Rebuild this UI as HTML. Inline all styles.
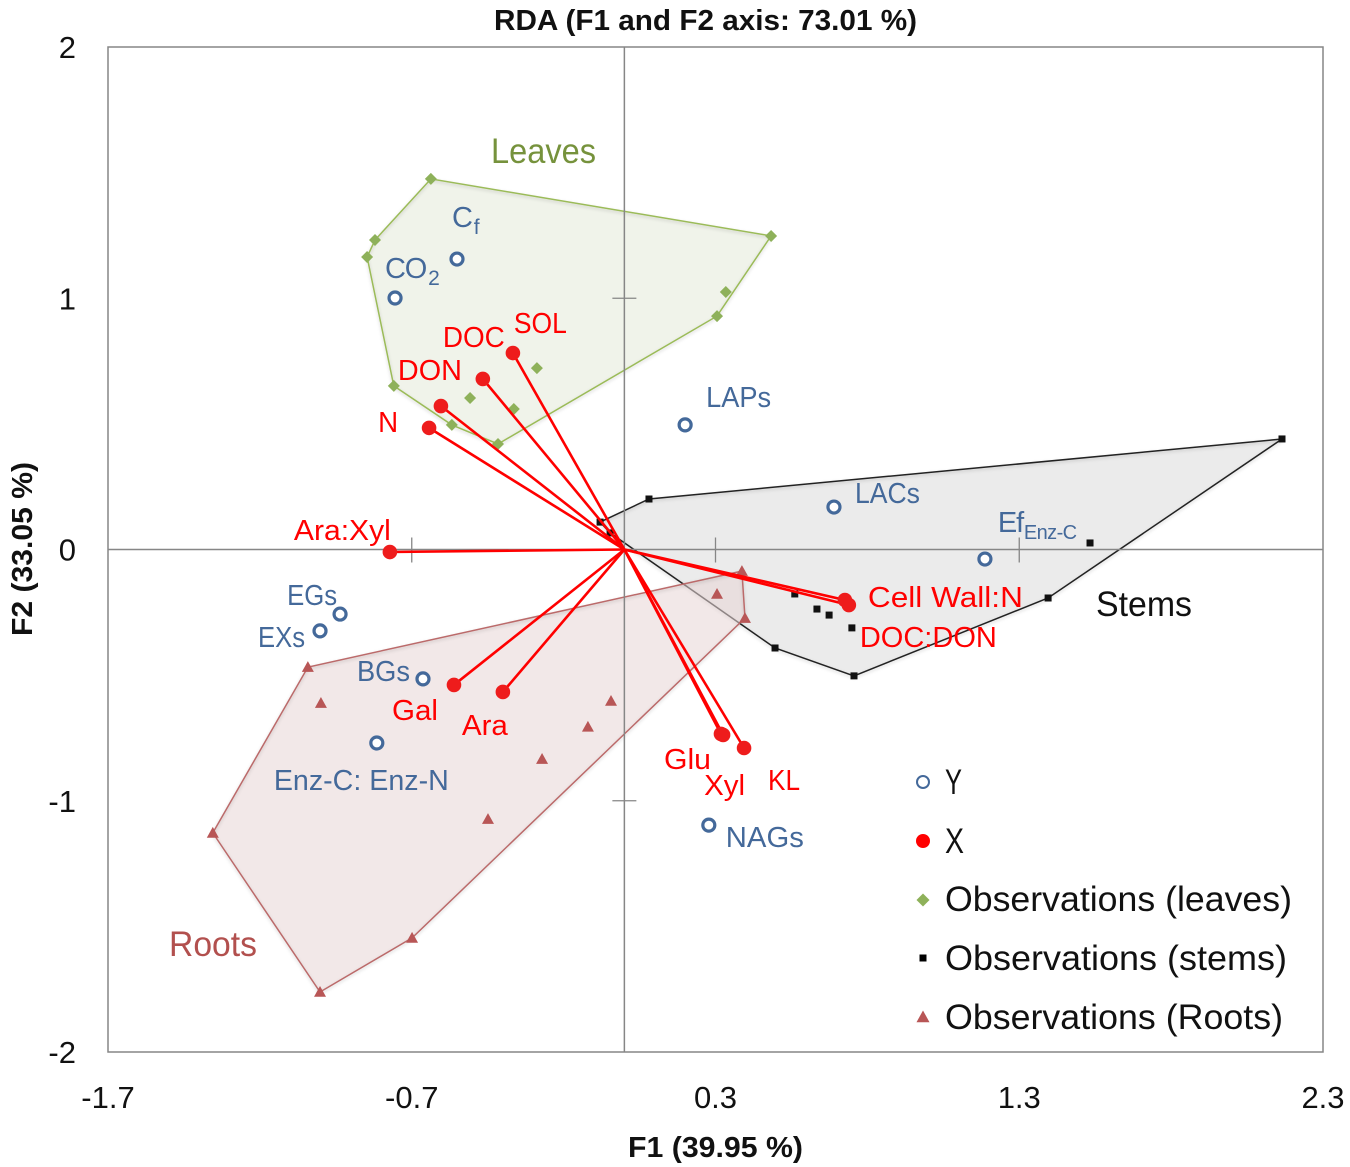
<!DOCTYPE html>
<html lang="en">
<head>
<meta charset="utf-8">
<title>RDA (F1 and F2 axis: 73.01 %)</title>
<style>
html,body{margin:0;padding:0;background:#fff;width:1350px;height:1167px;overflow:hidden}
svg{display:block;font-family:"Liberation Sans",sans-serif}
</style>
</head>
<body>
<svg id="chart" xmlns="http://www.w3.org/2000/svg" width="1350" height="1167" viewBox="0 0 1350 1167">
<defs>
<filter id="soft" x="-5%" y="-5%" width="110%" height="110%"><feDropShadow dx="0" dy="1.5" stdDeviation="1.5" flood-color="#000" flood-opacity="0.18"/></filter>
</defs>
</svg>
<script>
// ---- data (axis units) ----
const xTicks = [-1.7, -0.7, 0.3, 1.3, 2.3];
const yTicks = [2, 1, 0, -1, -2];

const yNames = ['Cf','CO2','LAPs','LACs','EfEnz-C','EGs','EXs','BGs','Enz-C: Enz-N','NAGs'];
const yF1 = [-0.551,-0.755,0.200,0.690,1.187,-0.936,-1.002,-0.663,-0.815,0.278];
const yF2 = [1.156,1.001,0.496,0.169,-0.038,-0.257,-0.324,-0.515,-0.770,-1.097];

const xNames = ['SOL','DOC','DON','N','Ara:Xyl','Gal','Ara','Glu','Xyl','KL','Cell Wall:N','DOC:DON'];
const xF1 = [-0.367,-0.466,-0.604,-0.643,-0.772,-0.561,-0.400,0.318,0.325,0.394,0.726,0.739];
const xF2 = [0.782,0.679,0.571,0.484,-0.010,-0.539,-0.567,-0.734,-0.738,-0.790,-0.201,-0.221];

const leavesF1 = [-0.637,-0.821,-0.847,-0.759,-0.568,-0.416,0.305,0.334,0.483,-0.288,-0.508,-0.364];
const leavesF2 = [1.475,1.232,1.164,0.651,0.496,0.420,0.929,1.025,1.248,0.722,0.603,0.559];

const stemsF1 = [2.165,0.081,-0.080,-0.047,0.496,0.756,1.395,1.533,0.561,0.634,0.674,0.749];
const stemsF2 = [0.440,0.201,0.109,0.066,-0.392,-0.503,-0.193,0.026,-0.177,-0.237,-0.261,-0.312];

const rootsF1 = [0.387,0.397,0.305,-1.042,-1.355,-1.002,-0.699,-0.449,-0.271,-0.120,-0.044,-0.999];
const rootsF2 = [-0.086,-0.273,-0.177,-0.468,-1.128,-1.761,-1.546,-1.073,-0.834,-0.706,-0.603,-0.611];

// ---- layout ----
const plot = {left:108, right:1323, top:47, bottom:1052};
const domX = [-1.7, 2.3], domY = [-2, 2];
function sx(v){ return plot.left + (v - domX[0]) / (domX[1] - domX[0]) * (plot.right - plot.left); }
function sy(v){ return plot.bottom - (v - domY[0]) / (domY[1] - domY[0]) * (plot.bottom - plot.top); }

// label placement relative to its mark: [dx to text start, dy to baseline, text width]
const labelPlacement = {
  'Cf':[-5,-32,0], 'CO2':[-10,-20,0], 'LAPs':[21,-18,65], 'LACs':[21,-4,65], 'EfEnz-C':[13,-27,0],
  'EGs':[-53,-9,50], 'EXs':[-62,16,47], 'BGs':[-66,2,53], 'Enz-C: Enz-N':[-103,47,175], 'NAGs':[17,22,78],
  'SOL':[1,-20,53], 'DOC':[-40,-32,62], 'DON':[-43,-26,64], 'N':[-51,4,20], 'Ara:Xyl':[-96,-12,97],
  'Gal':[-62,35,46], 'Ara':[-41,43,46], 'Glu':[-57,35,47], 'Xyl':[-19,60,41], 'KL':[24,42,32],
  'Cell Wall:N':[23,7,155], 'DOC:DON':[11,42,137]
};

const NS = 'http://www.w3.org/2000/svg';
const svg = document.getElementById('chart');
function make(tag, attrs, parent){
  const el = document.createElementNS(NS, tag);
  for (const k in attrs) el.setAttribute(k, attrs[k]);
  (parent || svg).appendChild(el);
  return el;
}
function hull(f1, f2){
  const pts = f1.map((v,i)=>[sx(v), sy(f2[i])]).sort((a,b)=>a[0]-b[0]||a[1]-b[1]);
  const cross=(o,a,b)=>(a[0]-o[0])*(b[1]-o[1])-(a[1]-o[1])*(b[0]-o[0]);
  const lo=[],up=[];
  for(const p of pts){ while(lo.length>1&&cross(lo[lo.length-2],lo[lo.length-1],p)<=0) lo.pop(); lo.push(p); }
  for(const p of pts.slice().reverse()){ while(up.length>1&&cross(up[up.length-2],up[up.length-1],p)<=0) up.pop(); up.push(p); }
  return lo.slice(0,-1).concat(up.slice(0,-1)).map(p=>p[0].toFixed(1)+','+p[1].toFixed(1)).join(' ');
}
function label(txt, x, y, size, color, width, weight){
  const attrs = {x:x, y:y, 'font-size':size, fill:color};
  if (width) { attrs.textLength = width; attrs.lengthAdjust = 'spacingAndGlyphs'; }
  if (weight) attrs['font-weight'] = weight;
  const t = make('text', attrs);
  t.textContent = txt;
  return t;
}
function diamond(cx,cy,r,fill){ return make('polygon',{points:`${cx},${cy-r} ${cx+r},${cy} ${cx},${cy+r} ${cx-r},${cy}`,fill:fill}); }
function square(cx,cy,r,fill){ return make('rect',{x:cx-r,y:cy-r,width:2*r,height:2*r,fill:fill}); }
function triangle(cx,cy,r,fill){ return make('polygon',{points:`${cx},${cy-r} ${cx+r},${cy+r*0.8} ${cx-r},${cy+r*0.8}`,fill:fill}); }

const C = {blue:'#44699a', red:'#ff0000', dot:'#ee1c1c', leaf:'#8eb15a', leafLine:'#9bbb59', stem:'#111111', root:'#b85656', axis:'#868686'};

// ---- frame ----
const frame = make('rect',{x:plot.left,y:plot.top,width:plot.right-plot.left,height:plot.bottom-plot.top,fill:'none',stroke:C.axis,'stroke-width':1.5});



// ---- hull regions (flat translucent fill, soft shadow only along the outline) ----
const fillLeaves = make('polygon',{points:hull(leavesF1,leavesF2),fill:'#e6ebdd','fill-opacity':0.62});


const lineLeaves = make('polygon',{points:hull(leavesF1,leavesF2),fill:'none',stroke:C.leafLine,'stroke-width':1.5,filter:'url(#soft)'});


const fillStems = make('polygon',{points:hull(stemsF1,stemsF2),fill:'#dedede','fill-opacity':0.6});


const lineStems = make('polygon',{points:hull(stemsF1,stemsF2),fill:'none',stroke:'#222','stroke-width':1.5,filter:'url(#soft)'});


const fillRoots = make('polygon',{points:hull(rootsF1,rootsF2),fill:'#e8d6d6','fill-opacity':0.55});


const lineRoots = make('polygon',{points:hull(rootsF1,rootsF2),fill:'none',stroke:'#bb6b6b','stroke-width':1.5,filter:'url(#soft)'});



// ---- axes through origin ----
const axisV = make('line',{x1:sx(0),x2:sx(0),y1:plot.top,y2:plot.bottom,stroke:C.axis,'stroke-width':1.5});


const axisH = make('line',{x1:plot.left,x2:plot.right,y1:sy(0),y2:sy(0),stroke:C.axis,'stroke-width':1.5});



xTicks.slice(1,-1).forEach(v=>{
  const m = make('line',{x1:sx(v),x2:sx(v),y1:sy(0)-12,y2:sy(0)+13,stroke:C.axis,'stroke-width':1.3});
  
  
});
yTicks.slice(1,-1).forEach(v=>{
  if (v===0) return;
  const m = make('line',{x1:sx(0)-12,x2:sx(0)+12,y1:sy(v),y2:sy(v),stroke:C.axis,'stroke-width':1.3});
  
  
});

xTicks.forEach(v=>{
  const t = label(String(v), sx(v), 1108, 31, '#111');
  t.setAttribute('text-anchor','middle');
  
  
});
yTicks.forEach(v=>{
  const t = label(String(v), 76, sy(v)+11, 31, '#111');
  t.setAttribute('text-anchor','end');
  
  
});

// ---- observations ----
leavesF1.forEach((v,i)=>{
  const m = diamond(sx(v),sy(leavesF2[i]),6,C.leaf);
  
  
});
stemsF1.forEach((v,i)=>{
  const m = square(sx(v),sy(stemsF2[i]),3.5,C.stem);
  
  
});
rootsF1.forEach((v,i)=>{
  const m = triangle(sx(v),sy(rootsF2[i]),6,C.root);
  
  
});

// ---- X vectors ----
xF1.forEach((v,i)=>{
  const l = make('line',{x1:sx(0),y1:sy(0),x2:sx(v),y2:sy(xF2[i]),stroke:C.red,'stroke-width':2.6});
  
  
});
xF1.forEach((v,i)=>{
  const d = make('circle',{cx:sx(v),cy:sy(xF2[i]),r:7.3,fill:C.dot});
  
  
  const p = labelPlacement[xNames[i]];
  const t = label(xNames[i], sx(v)+p[0], sy(xF2[i])+p[1], 29, C.red, p[2]);
  
  
});

// ---- Y points ----
yF1.forEach((v,i)=>{
  const d = make('circle',{cx:sx(v),cy:sy(yF2[i]),r:6,fill:'#fff',stroke:C.blue,'stroke-width':3.2});
  
  
  const name = yNames[i];
  const p = labelPlacement[name];
  const tx = sx(v)+p[0], ty = sy(yF2[i])+p[1];
  if (name==='Cf' || name==='CO2' || name==='EfEnz-C'){
    const base = name==='Cf' ? 'C' : name==='CO2' ? 'CO' : 'Ef';
    const sub = name==='Cf' ? 'f' : name==='CO2' ? '2' : 'Enz-C';
    const t = make('text',{x:tx,y:ty,'font-size':29,fill:C.blue,'letter-spacing':-1.2});
    
    
    const a = make('tspan',{},t); a.textContent = base;
    const b = make('tspan',{dy:7,'font-size':name==='EfEnz-C'?20:21,'letter-spacing':name==='EfEnz-C'?-0.6:0,dx:name==='EfEnz-C'?1:2},t); b.textContent = sub;
  } else {
    const t = label(name, tx, ty, 29, C.blue, p[2]);
    
    
  }
});

// ---- group names ----
const gLeaves = label('Leaves',491,163,35,'#76923c',105);


const gRoots = label('Roots',169,956,35,'#b2504e',88);


const gStems = label('Stems',1096,616,35,'#111',96);



// ---- titles ----
const title = label('RDA (F1 and F2 axis: 73.01 %)',494,30,29,'#111',423,'bold');


const xTitle = label('F1 (39.95 %)',628,1157,29,'#111',175,'bold');


const yTitle = make('text',{transform:'translate(32,636) rotate(-90)','font-size':29,'font-weight':'bold',fill:'#111',textLength:174,lengthAdjust:'spacingAndGlyphs'});
yTitle.textContent = 'F2 (33.05 %)';



// ---- legend ----
const legY = make('circle',{cx:923,cy:782,r:6,fill:'#fff',stroke:C.blue,'stroke-width':2});


const legX = make('circle',{cx:923,cy:841,r:7,fill:'#ff0000'});


const legL = diamond(923,900,6.5,C.leaf);


const legS = square(923,958,3.5,'#000');


const legR = triangle(923,1017,6.5,C.root);


const ltY = label('Y',945,794,35,'#111',17);


const ltX = label('X',945,853,35,'#111',19);


const ltL = label('Observations (leaves)',945,911,35,'#111',347);


const ltS = label('Observations (stems)',945,970,35,'#111',342);


const ltR = label('Observations (Roots)',945,1029,35,'#111',338);


</script>
</body>
</html>
